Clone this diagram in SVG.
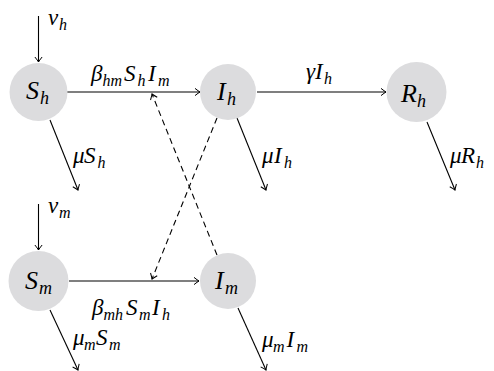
<svg xmlns="http://www.w3.org/2000/svg" width="494" height="371" viewBox="0 0 494 371">
<style>
.node{fill:#dcdcde;}
.lbl{font-family:"Liberation Serif","Times New Roman",serif;font-style:italic;fill:#000;}
.nl{font-size:26px;}
.el{font-size:23px;}
.sub{font-size:16px;}
.nsub{font-size:18px;}
.edge{stroke:#000;stroke-width:1.1;fill:none;marker-end:url(#arr);}
.dash{stroke-dasharray:6,4;}
</style>
<defs>
<marker id="arr" markerWidth="10" markerHeight="10" refX="0" refY="0" viewBox="-6 -5 8 10" orient="auto" markerUnits="userSpaceOnUse">
<path d="M-5,-3.6 Q-1.5,-0.8 0,0 Q-1.5,0.8 -5,3.6" stroke="#000" stroke-width="1" fill="none"/>
</marker>
</defs>
<rect width="494" height="371" fill="#fff"/>
<g id="connectors">
<line class="edge" x1="38.5" y1="16" x2="38.5" y2="62"/>
<line class="edge" x1="38.5" y1="204" x2="38.5" y2="250"/>
<line class="edge" x1="67" y1="92" x2="200" y2="92"/>
<line class="edge" x1="257" y1="92" x2="386" y2="92"/>
<line class="edge" x1="69" y1="281" x2="199" y2="281"/>
<line class="edge" x1="50" y1="120" x2="78" y2="190"/>
<line class="edge" x1="237" y1="118" x2="266" y2="190"/>
<line class="edge" x1="427" y1="122" x2="455" y2="190"/>
<line class="edge" x1="50" y1="310" x2="78" y2="370"/>
<line class="edge" x1="238" y1="308" x2="266" y2="370"/>
<line class="edge dash" x1="217" y1="255" x2="152" y2="94"/>
<line class="edge dash" x1="217" y1="118" x2="152" y2="279"/>
</g>
<g id="edge-labels" class="lbl el">
<text x="48" y="25">ν<tspan class="sub" x="59" y="30">h</tspan></text>
<text x="48" y="213">ν<tspan class="sub" x="59" y="218">m</tspan></text>
<text x="91" y="81">β<tspan class="sub" x="102.5" y="86">hm</tspan><tspan x="124" y="81">S</tspan><tspan class="sub" x="137.5" y="86">h</tspan><tspan x="148" y="81">I</tspan><tspan class="sub" x="158" y="86">m</tspan></text>
<text x="92" y="315">β<tspan class="sub" x="103.5" y="320">mh</tspan><tspan x="126" y="315">S</tspan><tspan class="sub" x="139" y="320">m</tspan><tspan x="152" y="315">I</tspan><tspan class="sub" x="162" y="320">h</tspan></text>
<text x="306" y="79">γ<tspan x="315">I</tspan><tspan class="sub" x="324" y="84">h</tspan></text>
<text x="73" y="163">μ<tspan x="84">S</tspan><tspan class="sub" x="97.5" y="168">h</tspan></text>
<text x="262" y="163">μ<tspan x="274">I</tspan><tspan class="sub" x="284" y="168">h</tspan></text>
<text x="450" y="163">μ<tspan x="461">R</tspan><tspan class="sub" x="476" y="168">h</tspan></text>
<text x="73" y="345">μ<tspan class="sub" x="84" y="350">m</tspan><tspan x="96" y="345">S</tspan><tspan class="sub" x="109" y="350">m</tspan></text>
<text x="262" y="347">μ<tspan class="sub" x="273" y="352">m</tspan><tspan x="286.5" y="347">I</tspan><tspan class="sub" x="296.5" y="352">m</tspan></text>
</g>
<g id="Sh"><circle class="node" cx="38.5" cy="92" r="29"/><text class="lbl nl" x="26" y="99">S<tspan class="nsub" x="40" y="104">h</tspan></text></g>
<g id="Ih"><circle class="node" cx="228" cy="92" r="28"/><text class="lbl nl" x="217" y="100">I<tspan class="nsub" x="227" y="105">h</tspan></text></g>
<g id="Rh"><circle class="node" cx="416.5" cy="92" r="30"/><text class="lbl nl" x="401" y="102">R<tspan class="nsub" x="417" y="107">h</tspan></text></g>
<g id="Sm"><circle class="node" cx="38.5" cy="281" r="30"/><text class="lbl nl" x="25" y="289">S<tspan class="nsub" x="39" y="294">m</tspan></text></g>
<g id="Im"><circle class="node" cx="228" cy="281" r="28"/><text class="lbl nl" x="215" y="289">I<tspan class="nsub" x="225" y="294">m</tspan></text></g>
</svg>
